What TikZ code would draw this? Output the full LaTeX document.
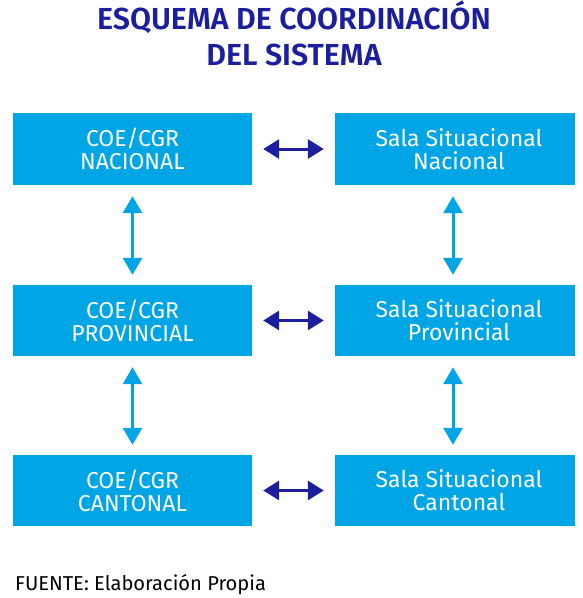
\documentclass[tikz,border=0pt]{standalone}
\usepackage{fontspec}
\setmainfont{Fira Sans}
\newfontfamily\titlefont{Fira Sans SemiBold}
\usetikzlibrary{arrows.meta,positioning}
\definecolor{navyblue}{RGB}{27,31,158}
\definecolor{skyblue}{RGB}{0,165,229}
\tikzset{
  box/.style={fill=skyblue,text=white,minimum height=72pt,inner sep=0pt,
    align=center,font=\fontsize{23}{23}\selectfont},
  harrow/.style={navyblue,line width=3pt,
    {Triangle[length=16pt,width=19pt]}-{Triangle[length=16pt,width=19pt]},
    shorten <=11pt,shorten >=11pt},
  varrow/.style={skyblue,line width=3pt,
    {Triangle[length=17pt,width=19pt]}-{Triangle[length=17pt,width=19pt]},
    shorten <=11pt,shorten >=10pt}
}

\begin{document}
\begin{tikzpicture}[x=1pt,y=-1pt]
\useasboundingbox (0,0) rectangle (582,598);
\draw (294,33.5) node (title) [navyblue,align=center,font=\titlefont\fontsize{30.4}{36.6}\selectfont] {ESQUEMA DE COORDINACIÓN\\DEL SISTEMA};
% columna izquierda
\draw (132.5,149) node (coenac) [box,minimum width=239pt] {COE/CGR\\NACIONAL};
\draw (132.5,320.5) node (coeprov) [box,minimum width=239pt,minimum height=71pt] {COE/CGR\\PROVINCIAL};
\draw (132.5,490.5) node (coecant) [box,minimum width=239pt,minimum height=71pt] {COE/CGR\\CANTONAL};
% columna derecha
\draw (455,149) node (salanac) [box,minimum width=240pt] {\hspace*{8pt}Sala Situacional\\\hspace*{8pt}Nacional};
\draw (455,320.5) node (salaprov) [box,minimum width=240pt,minimum height=71pt] {\hspace*{8pt}Sala Situacional\\\hspace*{8pt}Provincial};
\draw (455,490.5) node (salacant) [box,minimum width=240pt,minimum height=71pt] {\hspace*{8pt}Sala Situacional\\\hspace*{8pt}Cantonal};
\draw[harrow] (coenac)--(salanac);
\draw[harrow] (coeprov)--(salaprov);
\draw[harrow] (coecant)--(salacant);
\draw[varrow] (coenac)--(coeprov);
\draw[varrow] (coeprov)--(coecant);
\draw[varrow] ([xshift=-2pt]salanac.south)--([xshift=-2pt]salaprov.north);
\draw[varrow] ([xshift=-2pt]salaprov.south)--([xshift=-2pt]salacant.north);
\draw (15,590) node (fuente) [anchor=base west,inner sep=0pt,font=\fontsize{20.1}{24}\selectfont] {FUENTE: Elaboración Propia};
\end{tikzpicture}
\end{document}
